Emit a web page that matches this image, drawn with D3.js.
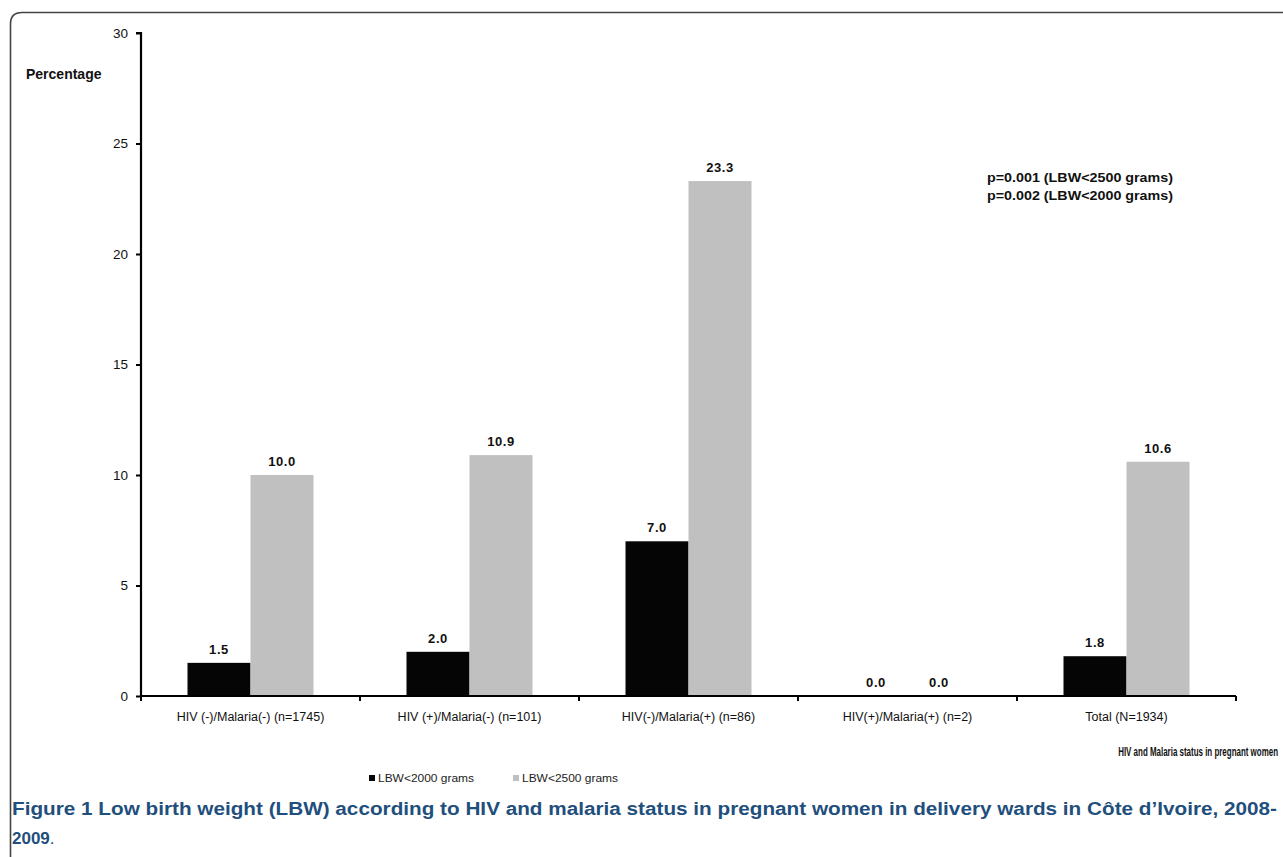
<!DOCTYPE html>
<html><head><meta charset="utf-8">
<script src="https://cdn.jsdelivr.net/npm/d3@7"></script>
<style>body{margin:0;background:#fff;}svg{display:block;font-family:"Liberation Sans",Arial,sans-serif;}</style>
</head><body>
<script>
const categories = ["HIV (-)/Malaria(-) (n=1745)","HIV (+)/Malaria(-) (n=101)","HIV(-)/Malaria(+) (n=86)","HIV(+)/Malaria(+) (n=2)","Total (N=1934)"];
const lbw2000 = [1.5, 2.0, 7.0, 0.0, 1.8];
const lbw2500 = [10.0, 10.9, 23.3, 0.0, 10.6];
const seriesNames = ["LBW<2000 grams","LBW<2500 grams"];
const seriesColors = ["#050505","#c0c0c0"];
const yTicks = [0,5,10,15,20,25,30];

const W=1283,H=857;
const svg=d3.select("body").append("svg").attr("width",W).attr("height",H);

// frame
svg.append("path").attr("d","M10.5,857 L10.5,24 Q10.5,12.5 22,12.5 L1283,12.5")
  .attr("fill","none").attr("stroke","#444").attr("stroke-width",1.6);

const x0=141,x1=1236,yTop=33,yBot=696;
const x=d3.scaleBand().domain(categories).range([x0,x1]).paddingInner(0).paddingOuter(0);
const y=d3.scaleLinear().domain([0,30]).range([yBot,yTop]);
const barW=63;

const data=categories.map((c,i)=>({c,v:[lbw2000[i],lbw2500[i]]}));

// bars
data.forEach(d=>{
  const cx=x(d.c)+x.bandwidth()/2;
  d.v.forEach((v,j)=>{
    const bx=cx-barW+j*barW;
    svg.append("rect").attr("x",bx).attr("y",y(v)).attr("width",barW).attr("height",yBot-y(v)).attr("fill",seriesColors[j]);
    svg.append("text").attr("x",bx+barW/2).attr("y",y(v)-9).attr("text-anchor","middle")
      .attr("font-size",13).attr("font-weight","bold").attr("letter-spacing",0.6).attr("fill","#111").text(v.toFixed(1));
  });
});

// y axis
const ya=svg.append("g").attr("transform",`translate(${x0},0)`)
  .call(d3.axisLeft(y).tickValues(yTicks).tickSize(5).tickPadding(8).tickFormat(d3.format("d")));
ya.select(".domain").attr("stroke","#000").attr("stroke-width",2.2).attr("d",`M-5,${yTop}H0V${yBot}`);
ya.selectAll(".tick line").attr("stroke","#000").attr("stroke-width",2);
ya.selectAll(".tick text").attr("font-size",13.5).attr("fill","#111").attr("font-family","Liberation Sans, Arial, sans-serif");

// x axis
const xa=svg.append("g").attr("transform",`translate(0,${yBot})`)
  .call(d3.axisBottom(x).tickSize(0).tickPadding(16));
xa.select(".domain").attr("stroke","#000").attr("stroke-width",2.2).attr("d",`M${x0},0H${x1}`);
xa.selectAll(".tick text").attr("font-size",12.5).attr("fill","#111").attr("font-family","Liberation Sans, Arial, sans-serif");
const bounds=categories.map(c=>x(c)).concat([x1]);
xa.selectAll(".bnd").data(bounds).enter().append("line")
  .attr("x1",d=>d).attr("x2",d=>d).attr("y1",0).attr("y2",5).attr("stroke","#000").attr("stroke-width",2);

// axis titles
svg.append("text").attr("x",26).attr("y",79).attr("font-size",14).attr("font-weight","bold").attr("fill","#111").text("Percentage");
const xt=svg.append("text").attr("x",0).attr("y",0).attr("text-anchor","end").attr("font-size",13).attr("font-weight","bold")
  .attr("fill","#111").text("HIV and Malaria status in pregnant women");
const xtLen=xt.node().getComputedTextLength();
xt.attr("transform",`translate(1278,756) scale(${160/xtLen},1)`);

// p values
["p=0.001 (LBW<2500 grams)","p=0.002 (LBW<2000 grams)"].forEach((t,i)=>{
  svg.append("text").attr("x",987).attr("y",182+i*18).attr("font-size",12).attr("font-weight","bold").attr("fill","#111")
    .attr("textLength",186).attr("lengthAdjust","spacingAndGlyphs").text(t);
});

// legend
const lx=[369,513];
seriesNames.forEach((n,i)=>{
  svg.append("rect").attr("x",lx[i]).attr("y",775).attr("width",6).attr("height",6).attr("fill",seriesColors[i]);
  svg.append("text").attr("x",lx[i]+9).attr("y",782).attr("font-size",11.5).attr("fill","#222")
    .attr("textLength",96).attr("lengthAdjust","spacingAndGlyphs").text(n);
});

// caption
const capColor="#1f4f7d";
svg.append("text").attr("x",12).attr("y",815).attr("font-size",18).attr("font-weight","bold").attr("fill",capColor)
  .attr("textLength",1265).attr("lengthAdjust","spacingAndGlyphs")
  .text("Figure 1 Low birth weight (LBW) according to HIV and malaria status in pregnant women in delivery wards in Côte d’Ivoire, 2008-");
const l2=svg.append("text").attr("x",12).attr("y",844).attr("font-size",17).attr("fill",capColor);
l2.append("tspan").attr("font-weight","bold").text("2009");
l2.append("tspan").text(".");
</script>
</body></html>
